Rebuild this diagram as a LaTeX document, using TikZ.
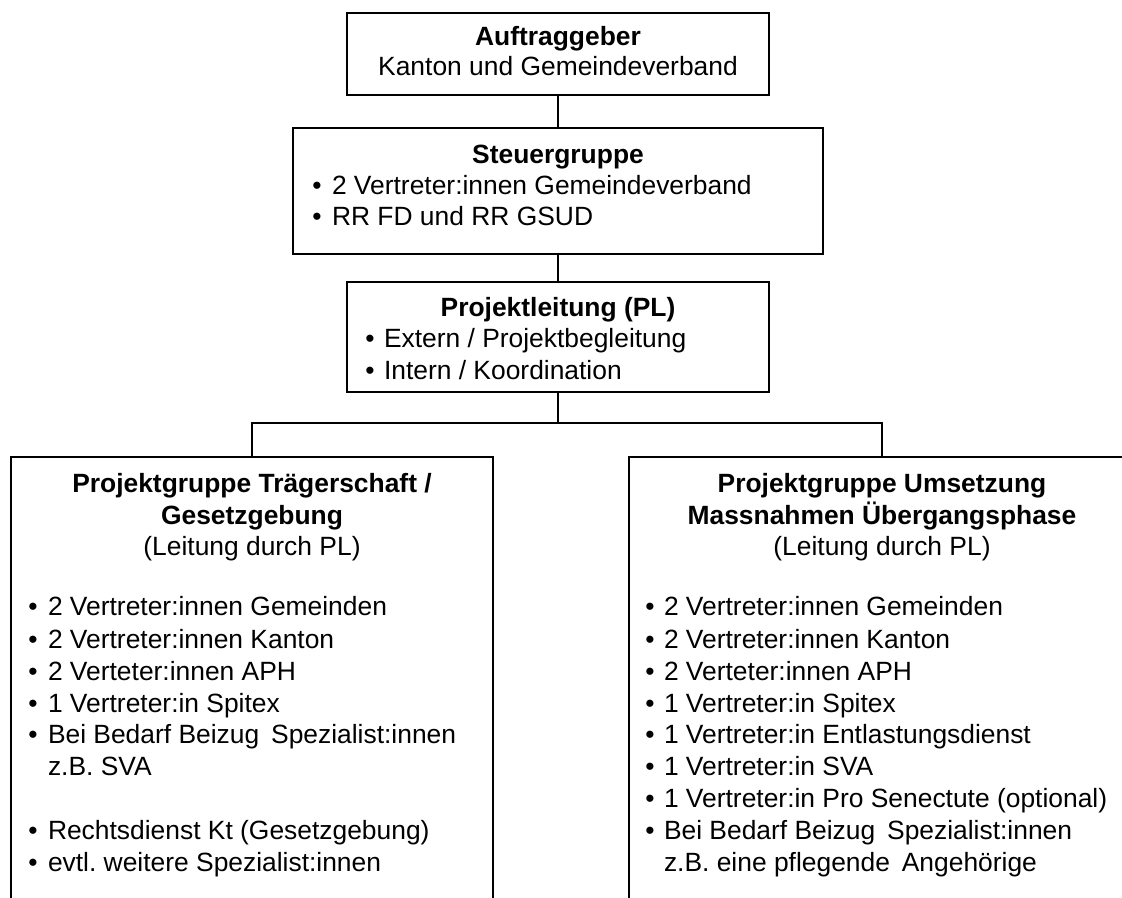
\documentclass[tikz,border=0pt]{standalone}
\usepackage{fontspec}
\setmainfont{Liberation Sans}
\usetikzlibrary{fit}
\frenchspacing
\newcommand\bodyfont{\fontsize{19.8}{24}\selectfont\frenchspacing}
\tikzset{
  box/.style={draw=black, line width=1.5pt, fill=white, inner sep=0pt, outer sep=0pt},
  txt/.style={inner sep=0pt, outer sep=0pt, text=black, font=\bodyfont},
  ttl/.style={txt, anchor=base, font=\bodyfont\bfseries},
  sub/.style={txt, anchor=base},
  conn/.style={draw=black, line width=1.5pt},
}
\newcommand\bitem[5]{%
  \node[txt,anchor=base] (#1b) at (#2,#4) {•};
  \node[txt,anchor=base west] (#1) at (#3,#4) {#5};}
\begin{document}
\begin{tikzpicture}[x=0.75pt,y=-0.75pt]
\useasboundingbox (0,0) rectangle (1122,898);
\clip (0,0) rectangle (1122,898);
\fill[white] (0,0) rectangle (1122,898);

% boxes
\node[box, fit={(347,13) (769,95)}] (auf) {};
\node[box, fit={(293,128) (823,254)}] (steuer) {};
\node[box, fit={(347,282) (769,392)}] (pl) {};
\node[box, fit={(11,457) (493,960)}] (lg) {};
\node[box, fit={(629,457) (1135,960)}] (rg) {};

% connectors
\coordinate (hub) at (558,423);
\draw[conn] (auf.south) -- (steuer.north);
\draw[conn] (steuer.south) -- (pl.north);
\draw[conn] (pl.south) -- (hub);
\draw[conn] (hub) -| (lg.north);
\draw[conn] (hub) -| (rg.north);

% Auftraggeber
\node[ttl] (aufT) at (558,46) {Auftraggeber};
\node[sub] (aufS) at (558,76) {Kanton und Gemeindeverband};

% Steuergruppe
\node[ttl] (stT) at (558,164) {Steuergruppe};
\bitem{st1}{317}{332}{195}{2 Vertreter:innen Gemeindeverband}
\bitem{st2}{317}{332}{226}{RR FD und RR GSUD}

% Projektleitung
\node[ttl] (plT) at (558,317) {Projektleitung (PL)};
\bitem{pl1}{370}{384}{348}{Extern / Projektbegleitung}
\bitem{pl2}{370}{384}{380}{Intern / Koordination}

% left group
\node[ttl] (lgT1) at (252,493) {Projektgruppe Trägerschaft /};
\node[ttl] (lgT2) at (252,525) {Gesetzgebung};
\node[sub] (lgS) at (252,556) {(Leitung durch PL)};
\bitem{l1}{33}{48}{616}{2 Vertreter:innen Gemeinden}
\bitem{l2}{33}{48}{648}{2 Vertreter:innen Kanton}
\bitem{l3}{33}{48}{680}{2 Verteter:innen APH}
\bitem{l4}{33}{48}{712}{1 Vertreter:in Spitex}
\bitem{l5}{33}{48}{743}{Bei Bedarf Beizug\hspace{0.45em}Spezialist:innen}
\node[txt,anchor=base west] (l5b2) at (48,775) {z.B. SVA};
\bitem{l6}{33}{48}{839}{Rechtsdienst Kt (Gesetzgebung)}
\bitem{l7}{33}{48}{871}{evtl. weitere Spezialist:innen}

% right group
\node[ttl] (rgT1) at (882,493) {Projektgruppe Umsetzung};
\node[ttl] (rgT2) at (882,525) {Massnahmen Übergangsphase};
\node[sub] (rgS) at (882,556) {(Leitung durch PL)};
\bitem{r1}{650}{664}{616}{2 Vertreter:innen Gemeinden}
\bitem{r2}{650}{664}{648}{2 Vertreter:innen Kanton}
\bitem{r3}{650}{664}{680}{2 Verteter:innen APH}
\bitem{r4}{650}{664}{712}{1 Vertreter:in Spitex}
\bitem{r5}{650}{664}{743}{1 Vertreter:in Entlastungsdienst}
\bitem{r6}{650}{664}{775}{1 Vertreter:in SVA}
\bitem{r7}{650}{664}{807}{1 Vertreter:in Pro Senectute (optional)}
\bitem{r8}{650}{664}{839}{Bei Bedarf Beizug\hspace{0.45em}Spezialist:innen}
\node[txt,anchor=base west] (r8b2) at (664,871) {z.B. eine pflegende\hspace{0.45em}Angehörige};
\end{tikzpicture}
\end{document}
